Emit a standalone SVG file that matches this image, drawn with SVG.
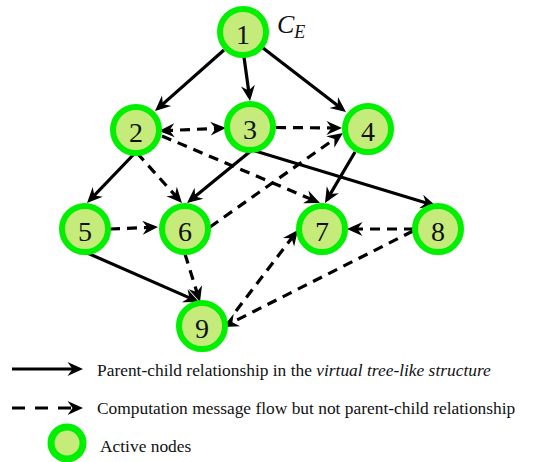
<svg xmlns="http://www.w3.org/2000/svg" width="555" height="462" viewBox="0 0 555 462">
<style>
.node circle{fill:#c5ec7b;stroke:#00f000;stroke-width:6}
.node text,.lbl,.ce{font-family:"Liberation Serif","Times New Roman",serif;fill:#111}
.node text{font-size:28px;text-anchor:middle}
.e{fill:none;stroke:#000;stroke-width:3.2;marker-end:url(#ah)}
.d{stroke-dasharray:10 7}
.lbl{font-size:17.4px}
.ce{font-size:26px;font-style:italic}
.sub{font-size:18px}
</style>
<defs>
<marker id="ah" viewBox="-18 -9 20 18" refX="-4" refY="0" markerWidth="20" markerHeight="18" markerUnits="userSpaceOnUse" orient="auto">
<path d="M0,0 L-15.5,-7 L-10.5,0 L-15.5,7 Z" fill="#000"/>
</marker>
<marker id="as" viewBox="-18 -9 20 18" refX="-4" refY="0" markerWidth="20" markerHeight="18" markerUnits="userSpaceOnUse" orient="auto-start-reverse">
<path d="M0,0 L-15.5,-7 L-10.5,0 L-15.5,7 Z" fill="#000"/>
</marker>
</defs>
<g id="connectors">
<line class="e" x1="224" y1="50" x2="158" y2="108.4"/>
<line class="e" x1="244" y1="57" x2="249.5" y2="97"/>
<line class="e" x1="263" y1="48" x2="342.8" y2="109.6"/>
<line class="e" x1="135" y1="153" x2="89.8" y2="200.1"/>
<line class="e" x1="252" y1="150" x2="190.1" y2="200.5"/>
<line class="e" x1="252" y1="150" x2="432.2" y2="204.8"/>
<line class="e" x1="355" y1="152" x2="327" y2="199.6"/>
<line class="e" x1="85" y1="252" x2="195.3" y2="300.4"/>
<line class="e d" x1="163" y1="130.8" x2="222" y2="128.1" marker-start="url(#as)"/>
<line class="e d" x1="276" y1="127.5" x2="338" y2="128"/>
<line class="e d" x1="137" y1="153" x2="179.3" y2="200"/>
<line class="e d" x1="162" y1="136" x2="316.3" y2="201.4"/>
<line class="e d" x1="210" y1="227" x2="339.7" y2="135.3"/>
<line class="e d" x1="110" y1="229" x2="154" y2="227.2"/>
<line class="e d" x1="414" y1="229" x2="351" y2="229"/>
<line class="e d" x1="185" y1="254" x2="198.8" y2="298.2"/>
<line class="e d" x1="236" y1="311" x2="295.5" y2="233.1"/>
<line class="e d" x1="413" y1="231" x2="226.6" y2="325.2"/>
</g>
<g id="n1" class="node"><circle cx="243" cy="32" r="23"/><text x="243" y="44">1</text></g>
<g id="n2" class="node"><circle cx="136" cy="130" r="23"/><text x="136" y="142">2</text></g>
<g id="n3" class="node"><circle cx="250" cy="127" r="23"/><text x="250" y="139">3</text></g>
<g id="n4" class="node"><circle cx="368" cy="129" r="23"/><text x="368" y="141">4</text></g>
<g id="n5" class="node"><circle cx="85" cy="229" r="23"/><text x="85" y="241">5</text></g>
<g id="n6" class="node"><circle cx="185" cy="229" r="23"/><text x="185" y="241">6</text></g>
<g id="n7" class="node"><circle cx="322" cy="229" r="23"/><text x="322" y="241">7</text></g>
<g id="n8" class="node"><circle cx="438" cy="229" r="23"/><text x="438" y="241">8</text></g>
<g id="n9" class="node"><circle cx="202" cy="326" r="23"/><text x="202" y="338">9</text></g>
<text class="ce" x="277" y="33">C<tspan class="sub" dy="5">E</tspan></text>
<g id="legend">
<line class="e" x1="12" y1="369" x2="79" y2="369"/>
<text class="lbl" x="97" y="376">Parent-child relationship in the <tspan font-style="italic">virtual tree-like structure</tspan></text>
<line class="e" x1="12" y1="408" x2="79" y2="408" stroke-dasharray="13 10"/>
<text class="lbl" x="97" y="414">Computation message flow but not parent-child relationship</text>
<circle cx="67" cy="443" r="16" fill="#c5ec7b" stroke="#00f000" stroke-width="7"/>
<text class="lbl" x="100" y="452">Active nodes</text>
</g>
</svg>
